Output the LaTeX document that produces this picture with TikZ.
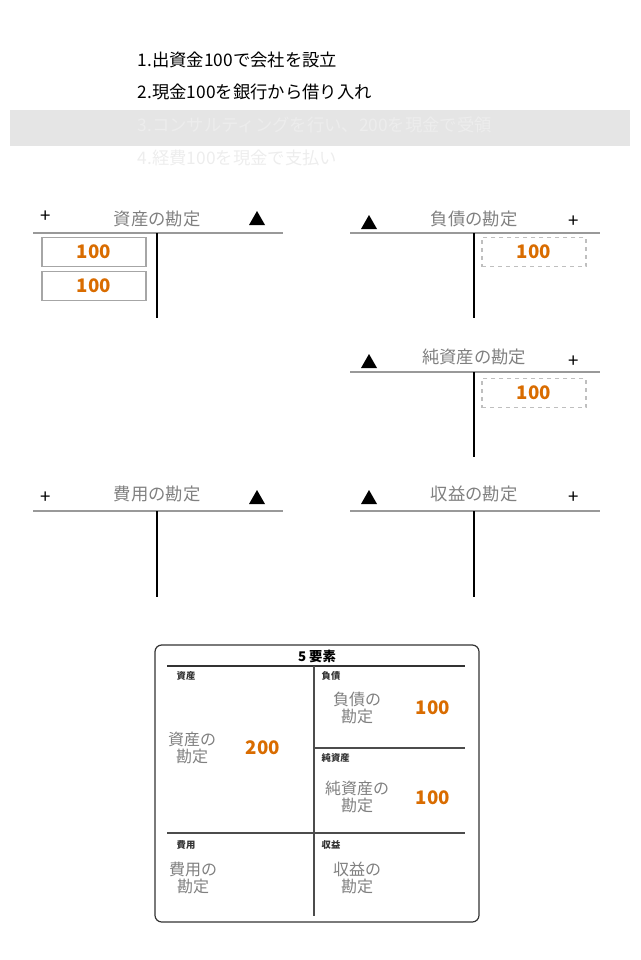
\documentclass[tikz,border=0pt]{standalone}
\usepackage{fontspec}
\setmainfont{Noto Sans CJK JP}
\begin{document}
\begin{tikzpicture}[x=0.75pt,y=-0.75pt,
  ln/.style={draw=gray!80,line width=1.2pt},
  vl/.style={draw=black,line width=0.8pt},
  ttl/.style={text=gray,font=\fontsize{13}{14}\selectfont},
  pl/.style={font=\fontsize{14}{14}\selectfont},
  tri/.style={fill=black,isosceles triangle stub},
  num/.style={text=orange!85!black,font=\fontsize{14}{14}\selectfont\bfseries},
  sbox/.style={draw=gray!70,line width=0.8pt,minimum width=78pt,minimum height=22pt,inner sep=0pt},
  dbox/.style={sbox,dashed,draw=gray!50},
  item/.style={anchor=west,font=\fontsize{13}{15}\selectfont},
  big/.style={text=gray,font=\fontsize{12}{13}\selectfont,align=center},
  sm/.style={anchor=west,font=\fontsize{7}{8}\selectfont\bfseries,text=black!80}]
\useasboundingbox (0,0) rectangle (640,960);
\fill[gray!20] (10,110) rectangle (630,146);
\node[item] (l1) at (133,60) {1.出資金100で会社を設立};
\node[item] (l2) at (133,92) {2.現金100を銀行から借り入れ};
\node[item,text=white!93!black] (l3) at (133,125) {3.コンサルティングを行い、200を現金で受領};
\node[item,text=white!93!black] (l4) at (133,158) {4.経費100を現金で支払い};
% triangle macro
\def\tri#1#2{\fill (#1-8,#2+7) -- (#1+8,#2+7) -- (#1,#2-7) -- cycle;}
% assets
\draw[ln] (33,233) coordinate (a1) -- (283,233) coordinate (a2);
\draw[vl] (157,233) coordinate (a3) -- (157,318) coordinate (a4);
\node[pl] (ap) at (46,217) {+};
\node[ttl] (at) at (157,219) {資産の勘定};
\tri{257}{218}
\node[sbox] (ab1) at (94,252) {}; \node[num] (an1) at (94,252) {100};
\node[sbox] (ab2) at (94,286) {}; \node[num] (an2) at (94,286) {100};
% liabilities
\draw[ln] (350,233) coordinate (b1) -- (600,233) coordinate (b2);
\draw[vl] (474,233) coordinate (b3) -- (474,318) coordinate (b4);
\node[pl] (bp) at (574,222) {+};
\node[ttl] (bt) at (474,219) {負債の勘定};
\tri{369}{222}
\node[dbox] (bb1) at (534,252) {}; \node[num] (bn1) at (534,252) {100};
% net assets
\draw[ln] (350,372) coordinate (c1) -- (600,372) coordinate (c2);
\draw[vl] (474,372) coordinate (c3) -- (474,457) coordinate (c4);
\node[pl] (cp) at (574,362) {+};
\node[ttl] (ct) at (474,357) {純資産の勘定};
\tri{369}{361}
\node[dbox] (cb1) at (534,393) {}; \node[num] (cn1) at (534,393) {100};
% expenses
\draw[ln] (33,511) coordinate (d1) -- (283,511) coordinate (d2);
\draw[vl] (157,511) coordinate (d3) -- (157,597) coordinate (d4);
\node[pl] (dp) at (46,498) {+};
\node[ttl] (dt) at (157,494) {費用の勘定};
\tri{257}{497}
% revenue
\draw[ln] (350,511) coordinate (e1) -- (600,511) coordinate (e2);
\draw[vl] (474,511) coordinate (e3) -- (474,597) coordinate (e4);
\node[pl] (ep) at (574,498) {+};
\node[ttl] (et) at (474,494) {収益の勘定};
\tri{369}{497}
% summary box
\draw[line width=0.9pt,rounded corners=5pt,draw=black!80] (155,645) rectangle (479,922);
\node[font=\fontsize{10}{11}\selectfont\bfseries] (st) at (317,656) {5 要素};
\draw[black!80,line width=0.9pt] (167,666) -- (465,666);
\draw[black!70,line width=0.9pt] (314,666) -- (314,916);
\draw[black!70,line width=0.9pt] (167,833) -- (465,833);
\draw[black!70,line width=0.9pt] (314,748) -- (465,748);
\node[sm] (s1) at (172,676) {資産};
\node[sm] (s2) at (317,676) {負債};
\node[sm] (s3) at (317,758) {純資産};
\node[sm] (s4) at (172,845) {費用};
\node[sm] (s5) at (317,845) {収益};
\node[big] (g1) at (192,748) {資産の\\勘定};
\node[num] (g1n) at (263,748) {200};
\node[big] (g2) at (357,708) {負債の\\勘定};
\node[num] (g2n) at (433,708) {100};
\node[big] (g3) at (357,797) {純資産の\\勘定};
\node[num] (g3n) at (433,798) {100};
\node[big] (g4) at (193,878) {費用の\\勘定};
\node[big] (g5) at (357,878) {収益の\\勘定};
\end{tikzpicture}
\end{document}
